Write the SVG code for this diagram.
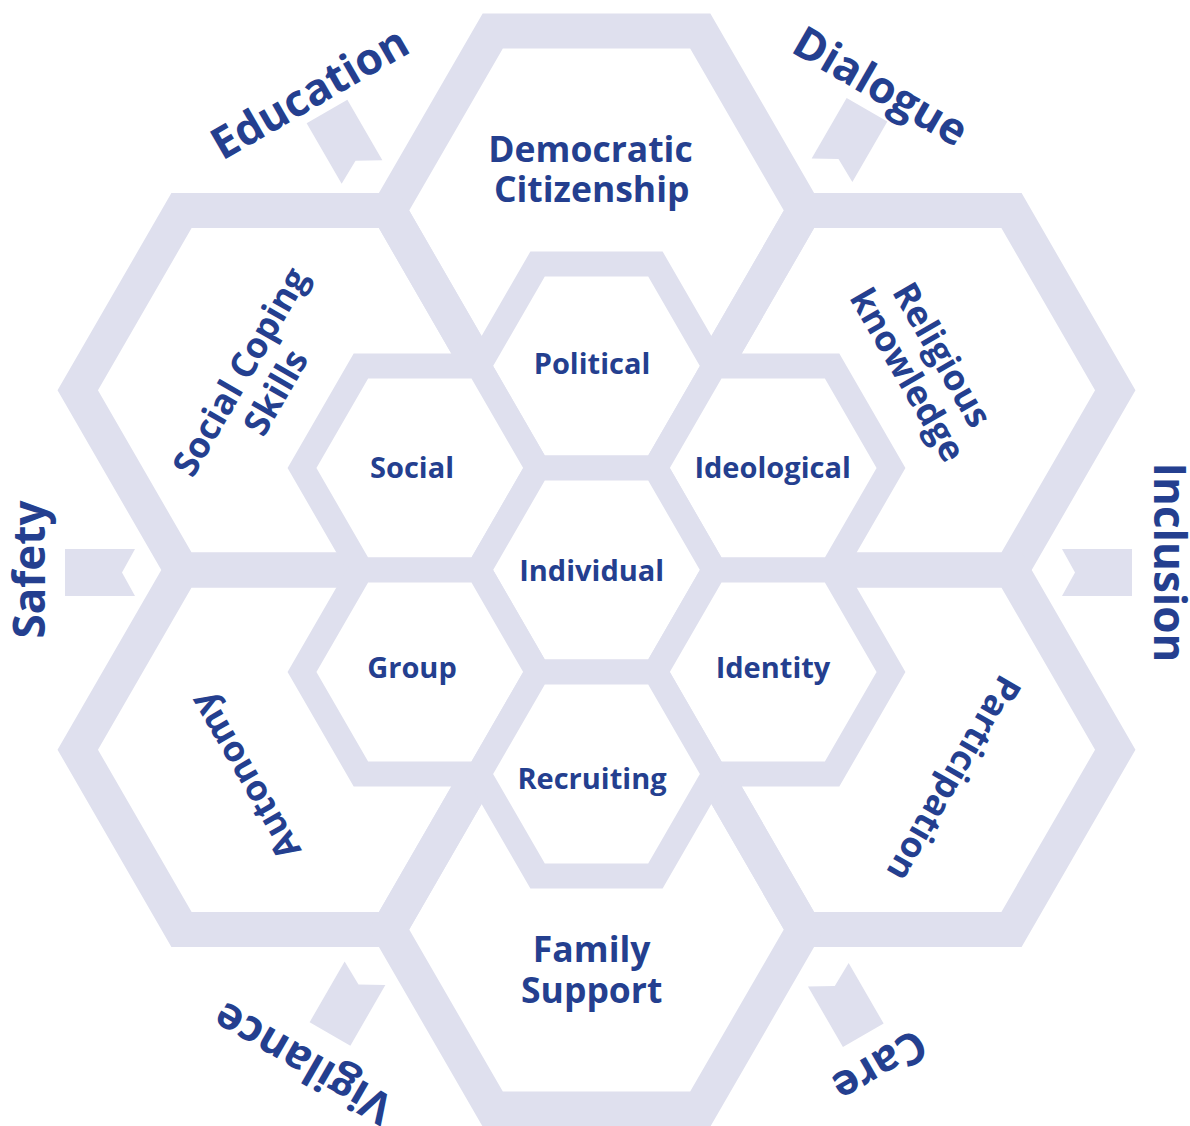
<svg xmlns="http://www.w3.org/2000/svg" width="1190" height="1126" viewBox="0 0 1190 1126">
  <defs>
    <path id="bighex" d="M-207.5,0 L-103.75,-179.7 L103.75,-179.7 L207.5,0 L103.75,179.7 L-103.75,179.7Z"/>
    <path id="smallhex" d="M-117.8,0 L-58.9,-102 L58.9,-102 L117.8,0 L58.9,102 L-58.9,102Z"/>
    <path id="pennant" d="M0,-23.5 L70,-23.5 L70,23.5 L0,23.5 L13,0Z"/>
    <style>
      .big { fill: none; stroke: #dfe0ee; stroke-width: 35; stroke-linejoin: miter; }
      .small { fill: #ffffff; stroke: #dfe0ee; stroke-width: 25; stroke-linejoin: miter; }
      .pen { fill: #dfe0ee; }
      text { font-family: "Open Sans", "DejaVu Sans", sans-serif; font-weight: 700; fill: #243f8f; text-anchor: middle; }
      .t-out { font-size: 44px; }
      .t-big { font-size: 35.5px; }
      .t-small { font-size: 29px; }
    </style>
  </defs>
  <rect width="1190" height="1126" fill="#ffffff"/>

  <g id="pennants">
    <use href="#pennant" class="pen" transform="translate(362,172) rotate(240)"/>
    <use href="#pennant" class="pen" transform="translate(832,170.3) rotate(300)"/>
    <use href="#pennant" class="pen" transform="translate(135,572.5) rotate(180)"/>
    <use href="#pennant" class="pen" transform="translate(1062,572.5)"/>
    <use href="#pennant" class="pen" transform="translate(365,973.3) rotate(120)"/>
    <use href="#pennant" class="pen" transform="translate(828.3,974.7) rotate(60)"/>
  </g>

  <g id="democratic-citizenship">
    <use href="#bighex" class="big" x="596.5" y="210.6"/>
    <text class="t-big" x="590.5" y="162.3">Democratic</text>
    <text class="t-big" x="591.7" y="201.7">Citizenship</text>
  </g>
  <g id="social-coping-skills">
    <use href="#bighex" class="big" x="285.25" y="390.3"/>
    <g transform="translate(251,378) rotate(-60)">
      <text class="t-big" x="0" y="0">Social Coping</text>
      <text class="t-big" x="0" y="41">Skills</text>
    </g>
  </g>
  <g id="religious-knowledge">
    <use href="#bighex" class="big" x="907.75" y="390.3"/>
    <g transform="translate(931.6,361) rotate(60)">
      <text class="t-big" x="0" y="0">Religious</text>
      <text class="t-big" x="0" y="40">knowledge</text>
    </g>
  </g>
  <g id="autonomy">
    <use href="#bighex" class="big" x="285.25" y="749.7"/>
    <text class="t-big" transform="translate(255.7,769.8) rotate(-120)">Autonomy</text>
  </g>
  <g id="participation">
    <use href="#bighex" class="big" x="907.75" y="749.7"/>
    <text class="t-big" transform="translate(943.2,772.3) rotate(120)">Participation</text>
  </g>
  <g id="family-support">
    <use href="#bighex" class="big" x="596.5" y="929.4"/>
    <text class="t-big" x="591.7" y="961.7">Family</text>
    <text class="t-big" x="591.7" y="1002.7">Support</text>
  </g>

  <g id="political">
    <use href="#smallhex" class="small" x="596.5" y="366"/>
    <text class="t-small" x="592" y="374.4">Political</text>
  </g>
  <g id="social">
    <use href="#smallhex" class="small" x="419.8" y="468"/>
    <text class="t-small" x="412" y="478">Social</text>
  </g>
  <g id="ideological">
    <use href="#smallhex" class="small" x="773.2" y="468"/>
    <text class="t-small" x="772.6" y="478">Ideological</text>
  </g>
  <g id="individual">
    <use href="#smallhex" class="small" x="596.5" y="570"/>
    <text class="t-small" x="591.7" y="580.8">Individual</text>
  </g>
  <g id="group">
    <use href="#smallhex" class="small" x="419.8" y="672"/>
    <text class="t-small" x="412" y="678.3">Group</text>
  </g>
  <g id="identity">
    <use href="#smallhex" class="small" x="773.2" y="672"/>
    <text class="t-small" x="773" y="678.3">Identity</text>
  </g>
  <g id="recruiting">
    <use href="#smallhex" class="small" x="596.5" y="774"/>
    <text class="t-small" x="592" y="789">Recruiting</text>
  </g>

  <g id="outer-labels">
    <text class="t-out" transform="translate(317.3,106.3) rotate(-30)">Education</text>
    <text class="t-out" transform="translate(873,99.6) rotate(30)">Dialogue</text>
    <text class="t-out" transform="translate(45,569.5) rotate(-90)">Safety</text>
    <text class="t-out" transform="translate(1154,562.4) rotate(90)">Inclusion</text>
    <text class="t-out" transform="translate(310.5,1050) rotate(210)">Vigilance</text>
    <text class="t-out" transform="translate(872.2,1053) rotate(150)">Care</text>
  </g>

  <g id="connectors"></g>
</svg>
